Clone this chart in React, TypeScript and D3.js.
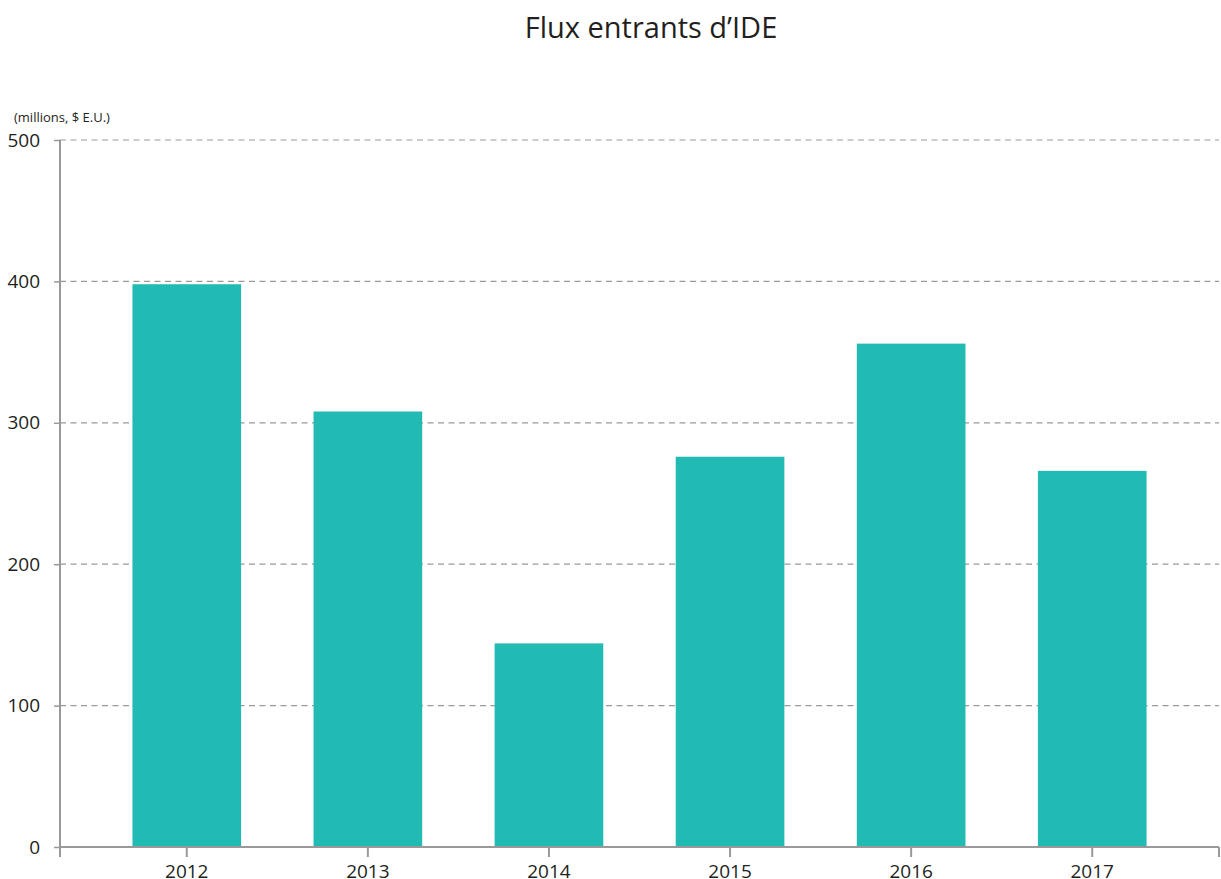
import * as d3 from "d3";
import { useRef, useEffect } from "react";

const years = ["2012", "2013", "2014", "2015", "2016", "2017"];
const flows = [398, 308, 144, 276, 356, 266];
const yTicks = [0, 100, 200, 300, 400, 500];

const width = 1221;
const height = 879;
const font = "'Open Sans', 'Noto Sans', sans-serif";

const App = () => {
	const chartRef = useRef<SVGSVGElement>(null);

	const margin = { top: 140, bottom: 32, left: 60, right: 2 };

	useEffect(() => {
		const svg = d3.select(chartRef.current);
		svg.selectAll("*").remove();

		const x = d3.scaleBand()
			.domain(years)
			.range([margin.left, width - margin.right])
			.paddingInner(0.4)
			.paddingOuter(0.4);

		const y = d3.scaleLinear()
			.domain([0, 500])
			.range([height - margin.bottom, margin.top]);

		// titre
		svg.append("text")
			.attr("x", 651)
			.attr("y", 38)
			.attr("text-anchor", "middle")
			.style("font-family", font)
			.style("font-size", "29px")
			.style("fill", "#231f20")
			.text("Flux entrants d\u2019IDE");

		svg.append("text")
			.attr("x", 14)
			.attr("y", 122)
			.style("font-family", font)
			.style("font-size", "13px")
			.style("fill", "#231f20")
			.text("(millions, $ E.U.)");

		// grille
		svg.append("g")
			.selectAll("line")
			.data(yTicks.filter(d => d > 0))
			.enter()
			.append("line")
			.attr("x1", margin.left)
			.attr("x2", width - margin.right)
			.attr("y1", d => y(d))
			.attr("y2", d => y(d))
			.style("stroke", "#9a9a9a")
			.style("stroke-width", 1.2)
			.style("stroke-dasharray", "6,4.5");

		// barres
		svg.append("g")
			.selectAll("rect")
			.data(flows)
			.enter()
			.append("rect")
			.attr("x", (d, i) => x(years[i])!)
			.attr("y", d => y(d))
			.attr("width", x.bandwidth())
			.attr("height", d => y(0) - y(d))
			.style("fill", "#22bbb4");

		// axe Y
		const yAxis = svg.append("g")
			.attr("transform", `translate(${margin.left},0)`)
			.call(d3.axisLeft(y).tickValues(yTicks).tickSize(6).tickSizeOuter(0));
		yAxis.select(".domain").remove();
		yAxis.append("line")
			.attr("x1", 0).attr("x2", 0)
			.attr("y1", y(500)).attr("y2", y(0) + 10)
			.style("stroke", "#999")
			.style("stroke-width", 2);
		yAxis.selectAll(".tick line").style("stroke", "#999").style("stroke-width", 1.5);
		yAxis.selectAll(".tick text")
			.attr("x", -20)
			.style("font-family", font)
			.style("font-size", "19px")
			.style("fill", "#231f20");

		// axe X
		const xAxis = svg.append("g")
			.attr("transform", `translate(0,${y(0)})`)
			.call(d3.axisBottom(x).tickSize(10).tickSizeOuter(0));
		xAxis.select(".domain").remove();
		xAxis.append("line")
			.attr("x1", margin.left).attr("x2", width - margin.right)
			.style("stroke", "#999")
			.style("stroke-width", 2);
		xAxis.append("line")
			.attr("x1", width - margin.right).attr("x2", width - margin.right)
			.attr("y1", 0).attr("y2", 10)
			.style("stroke", "#999")
			.style("stroke-width", 2);
		xAxis.selectAll(".tick line").style("stroke", "#999").style("stroke-width", 2);
		xAxis.selectAll(".tick text")
			.attr("y", 18)
			.style("font-family", font)
			.style("font-size", "19px")
			.style("fill", "#231f20");
	}, []);

	return (
		<svg ref={chartRef} width={width} height={height}
			style={{ position: "absolute", left: 0, top: 0, background: "#fff" }} />
	);
};

export default App;
